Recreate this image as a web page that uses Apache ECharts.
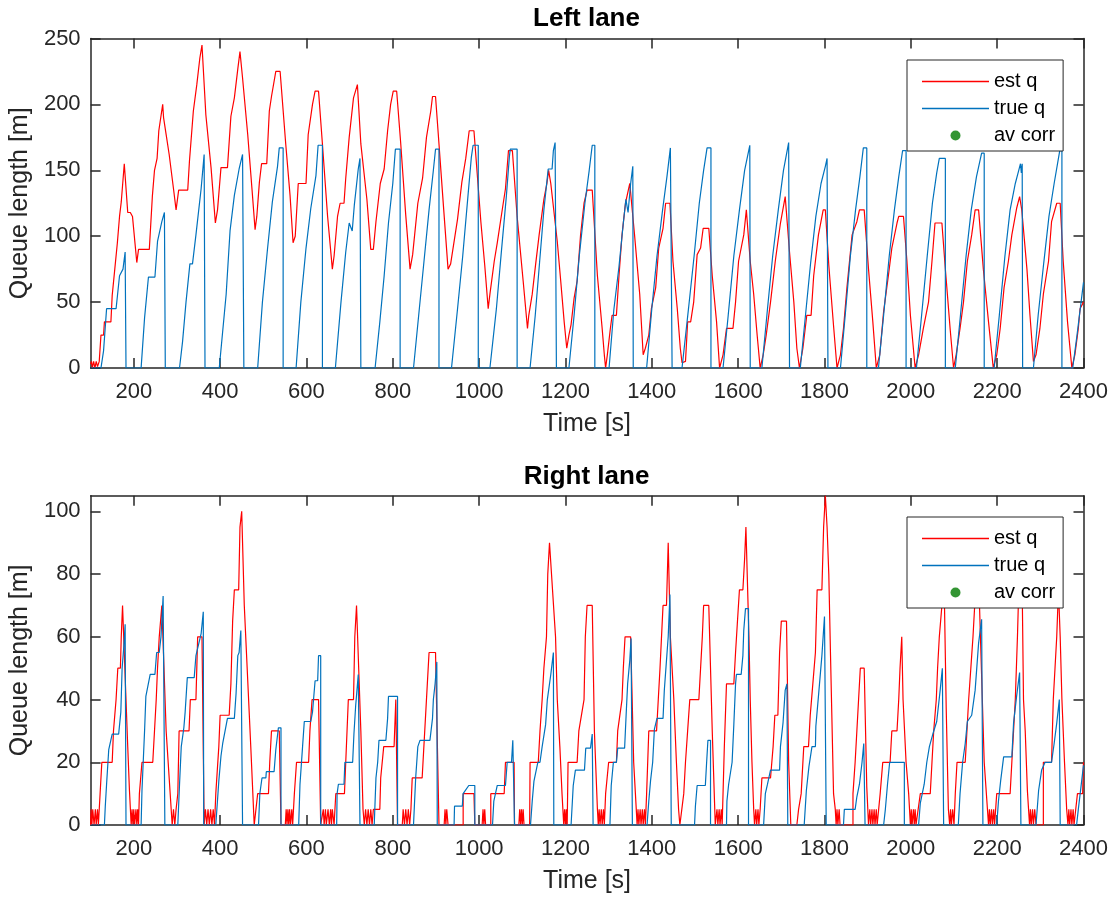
<!DOCTYPE html>
<html>
<head>
<meta charset="utf-8">
<script src="https://cdn.jsdelivr.net/npm/echarts@6/dist/echarts.min.js"></script>
<style>
html,body{margin:0;padding:0;background:#fff;}
#chart{width:1120px;height:902px;}
</style>
</head>
<body>
<div id="chart"></div>
<script>
// ---------- data ----------
var xTicks = [200,400,600,800,1000,1200,1400,1600,1800,2000,2200,2400];
var leftYTicks = [0,50,100,150,200,250];
var rightYTicks = [0,20,40,60,80,100];
var legendNames = ['est q','true q','av corr'];

// Left lane: estimated queue [time s, length m]
var leftEst = [[100,3],[102,5],[104,0],[107,5],[110,0],[113,5],[116,1],[120,5],[122,6],[124,25],[130,25],[132,35],[147,35],[150,55],[156,75],[162,95],[167,115],[171,126],[178,155],[186,118],[192,118],[197,115],[207,80],[211,90],[236,90],[243,130],[248,150],[254,159],[258,180],[267,200],[269,190],[275,177],[282,162],[292,136],[298,120],[304,135],[325,135],[329,157],[338,195],[346,215],[353,235],[358,245],[367,192],[379,152],[389,110],[394,120],[402,152],[417,152],[425,191],[433,205],[441,227],[446,240],[452,220],[464,177],[474,135],[481,105],[485,115],[491,141],[496,155],[508,155],[514,195],[519,206],[529,225],[539,225],[552,170],[562,131],[569,95],[574,100],[581,140],[599,140],[604,177],[614,200],[620,210],[628,210],[637,170],[649,115],[660,75],[664,85],[672,115],[678,125],[687,125],[691,144],[699,175],[709,205],[718,215],[726,170],[740,128],[749,90],[755,90],[761,111],[771,140],[780,151],[788,180],[795,200],[801,210],[809,210],[818,172],[830,116],[840,75],[846,86],[858,125],[869,144],[878,175],[888,195],[892,206],[899,206],[907,170],[918,120],[928,75],[934,79],[950,113],[960,141],[969,159],[977,180],[988,180],[1004,111],[1013,78],[1021,45],[1025,56],[1035,81],[1042,95],[1054,121],[1061,136],[1068,165],[1077,165],[1088,115],[1102,66],[1112,30],[1115,40],[1123,56],[1131,79],[1139,101],[1150,128],[1157,140],[1161,150],[1166,140],[1181,96],[1189,66],[1197,35],[1203,15],[1208,25],[1213,33],[1220,53],[1227,66],[1235,101],[1243,125],[1250,135],[1262,135],[1274,70],[1285,30],[1290,10],[1293,0],[1297,10],[1304,30],[1308,40],[1318,40],[1324,70],[1331,101],[1339,125],[1349,140],[1351,140],[1360,101],[1372,56],[1380,10],[1385,15],[1393,25],[1399,45],[1409,61],[1416,91],[1426,106],[1432,125],[1442,125],[1449,81],[1459,45],[1466,15],[1470,4],[1478,5],[1483,35],[1490,35],[1497,50],[1505,86],[1513,91],[1519,106],[1532,106],[1540,70],[1550,35],[1557,0],[1565,10],[1573,30],[1588,30],[1594,50],[1601,81],[1613,101],[1619,120],[1628,81],[1636,56],[1644,25],[1651,0],[1658,10],[1665,25],[1675,50],[1686,81],[1698,110],[1709,130],[1719,88],[1729,50],[1736,15],[1742,0],[1750,15],[1759,40],[1769,40],[1775,70],[1786,101],[1797,120],[1802,120],[1810,78],[1821,32],[1829,0],[1837,10],[1844,30],[1852,61],[1864,101],[1875,111],[1881,120],[1892,120],[1902,75],[1912,35],[1920,0],[1928,10],[1937,43],[1948,70],[1956,91],[1968,110],[1972,115],[1983,115],[1991,81],[1999,40],[2010,0],[2018,10],[2029,30],[2041,50],[2049,81],[2056,110],[2072,110],[2080,75],[2091,30],[2099,0],[2105,10],[2114,30],[2122,50],[2131,81],[2141,101],[2149,120],[2157,120],[2168,75],[2180,35],[2191,0],[2199,10],[2207,30],[2216,61],[2226,81],[2234,101],[2245,121],[2252,130],[2257,120],[2269,75],[2276,40],[2284,5],[2290,10],[2299,30],[2307,56],[2319,81],[2326,111],[2338,125],[2346,125],[2353,81],[2363,35],[2373,0],[2380,10],[2388,30],[2392,45],[2400,50]];

// Left lane: true queue
var leftTrue = [[100,0],[124,0],[130,13],[137,45],[159,45],[167,70],[175,75],[180,88],[182,88],[182,0],[217,0],[225,38],[234,69],[249,69],[255,96],[265,111],[271,118],[273,118],[273,0],[306,0],[313,20],[321,50],[330,79],[336,79],[344,101],[356,136],[363,162],[365,162],[365,0],[398,0],[414,56],[423,104],[433,131],[444,151],[452,162],[455,162],[455,0],[487,0],[498,50],[510,91],[521,126],[533,153],[537,167],[546,167],[546,0],[576,0],[587,50],[599,91],[610,121],[622,146],[627,169],[637,169],[637,0],[667,0],[680,50],[691,88],[699,110],[706,104],[711,124],[720,151],[724,159],[726,159],[726,0],[759,0],[770,35],[780,70],[790,110],[800,140],[806,166],[817,166],[817,0],[848,0],[860,40],[872,80],[884,120],[894,150],[899,166],[907,166],[907,0],[936,0],[950,45],[962,85],[974,130],[982,160],[986,169],[998,169],[998,0],[1025,0],[1040,45],[1052,90],[1063,130],[1070,160],[1072,166],[1088,166],[1088,0],[1118,0],[1130,40],[1140,80],[1150,120],[1160,151],[1169,151],[1172,165],[1176,171],[1179,171],[1179,0],[1208,0],[1220,40],[1232,85],[1245,125],[1255,150],[1262,169],[1268,169],[1268,0],[1301,0],[1312,44],[1324,77],[1334,110],[1340,128],[1345,118],[1351,140],[1356,153],[1357,153],[1357,0],[1388,0],[1400,45],[1412,85],[1425,120],[1435,145],[1443,167],[1447,167],[1447,0],[1470,0],[1485,45],[1498,85],[1510,125],[1520,150],[1528,167],[1537,167],[1537,0],[1565,0],[1577,40],[1590,85],[1603,120],[1615,150],[1627,169],[1628,169],[1628,0],[1655,0],[1668,45],[1680,85],[1693,120],[1705,150],[1717,171],[1719,171],[1719,0],[1744,0],[1756,40],[1768,80],[1780,115],[1792,140],[1802,153],[1806,159],[1808,159],[1808,0],[1837,0],[1848,40],[1860,85],[1872,120],[1882,145],[1890,167],[1898,167],[1898,0],[1925,0],[1937,40],[1950,85],[1962,120],[1972,145],[1981,165],[1989,165],[1989,0],[2013,0],[2025,40],[2038,85],[2050,125],[2060,148],[2066,159],[2080,159],[2080,0],[2103,0],[2115,40],[2128,85],[2140,120],[2152,145],[2164,163],[2170,163],[2170,0],[2193,0],[2205,40],[2218,85],[2230,120],[2242,140],[2250,150],[2254,155],[2256,148],[2258,155],[2259,155],[2259,0],[2284,0],[2295,40],[2308,80],[2320,115],[2332,140],[2345,165],[2350,165],[2350,0],[2375,0],[2385,25],[2400,65]];

// Right lane: estimated queue
var rightEst = [[100,0],[101,5],[103,0],[105,5],[108,0],[111,5],[113,0],[116,5],[118,0],[120,0],[122,10],[126,10],[126,20],[150,20],[153,30],[159,40],[163,50],[169,50],[171,60],[174,70],[178,70],[186,25],[190,11],[194,0],[196,5],[198,0],[200,5],[202,0],[205,5],[207,0],[209,5],[211,0],[213,10],[219,20],[244,20],[248,30],[252,40],[255,50],[259,60],[265,70],[268,70],[275,30],[282,15],[289,0],[292,5],[295,0],[298,5],[302,10],[305,30],[328,30],[331,40],[344,40],[348,60],[358,60],[363,0],[366,5],[369,0],[372,5],[375,0],[378,5],[381,0],[384,5],[387,0],[390,10],[397,25],[400,35],[421,35],[425,45],[429,65],[433,75],[443,75],[446,95],[450,100],[456,70],[461,55],[466,40],[471,25],[479,0],[487,10],[512,10],[515,20],[519,30],[537,30],[541,0],[551,0],[553,5],[555,0],[557,5],[559,0],[561,5],[563,0],[566,5],[568,0],[572,10],[577,20],[605,20],[608,30],[613,40],[628,40],[633,0],[639,5],[641,0],[644,5],[646,0],[650,5],[653,0],[656,5],[658,0],[660,5],[664,0],[668,10],[688,10],[691,20],[694,30],[697,40],[709,40],[712,60],[716,70],[720,70],[726,30],[731,5],[734,0],[737,5],[740,0],[743,5],[746,0],[749,5],[752,0],[755,5],[770,5],[772,15],[779,25],[803,25],[807,40],[811,0],[822,0],[824,5],[827,0],[830,5],[833,0],[836,5],[839,0],[842,5],[845,15],[868,15],[872,25],[880,45],[884,55],[899,55],[907,0],[919,0],[921,5],[923,0],[925,5],[928,0],[963,0],[963,10],[988,10],[990,0],[1007,0],[1009,5],[1011,0],[1013,5],[1015,0],[1027,0],[1027,10],[1058,10],[1061,20],[1081,20],[1082,0],[1092,0],[1094,5],[1096,0],[1098,5],[1100,0],[1102,5],[1104,0],[1117,0],[1118,20],[1137,20],[1141,30],[1146,40],[1150,50],[1156,60],[1159,80],[1163,90],[1167,90],[1177,60],[1181,40],[1187,25],[1192,10],[1196,0],[1198,5],[1200,0],[1202,5],[1204,0],[1206,20],[1227,20],[1231,30],[1243,40],[1246,60],[1250,70],[1262,70],[1267,30],[1274,5],[1276,0],[1278,5],[1280,0],[1283,5],[1285,0],[1288,5],[1290,0],[1293,10],[1300,20],[1318,20],[1321,30],[1331,40],[1334,50],[1338,60],[1351,60],[1358,20],[1362,10],[1366,0],[1368,5],[1370,0],[1373,5],[1375,0],[1378,5],[1380,0],[1383,5],[1385,0],[1388,10],[1393,30],[1411,30],[1415,40],[1419,50],[1426,70],[1434,70],[1438,90],[1443,60],[1451,40],[1457,20],[1462,5],[1465,0],[1474,10],[1478,20],[1483,30],[1488,40],[1509,40],[1513,50],[1517,60],[1520,70],[1532,70],[1540,30],[1547,0],[1551,5],[1553,0],[1556,5],[1558,0],[1561,5],[1563,0],[1568,25],[1573,45],[1590,45],[1594,55],[1598,64],[1603,75],[1611,75],[1615,85],[1618,95],[1625,60],[1628,40],[1632,20],[1636,5],[1638,0],[1641,5],[1643,0],[1646,5],[1648,0],[1651,5],[1655,15],[1675,15],[1681,25],[1685,35],[1692,35],[1696,55],[1700,65],[1712,65],[1717,20],[1722,0],[1736,0],[1740,5],[1746,10],[1752,25],[1763,25],[1767,35],[1773,45],[1779,55],[1783,75],[1794,75],[1798,95],[1802,105],[1806,95],[1810,80],[1814,54],[1821,10],[1825,5],[1827,0],[1829,5],[1831,0],[1834,5],[1836,0],[1866,0],[1866,10],[1871,20],[1875,30],[1879,40],[1883,50],[1892,50],[1898,12],[1902,0],[1905,5],[1907,0],[1910,5],[1912,0],[1915,5],[1917,0],[1920,5],[1922,0],[1929,10],[1935,20],[1952,20],[1956,30],[1968,30],[1972,40],[1975,50],[1979,60],[1982,40],[1989,20],[1995,10],[1999,0],[2001,5],[2003,0],[2006,5],[2008,0],[2010,5],[2012,0],[2022,10],[2045,10],[2049,20],[2053,30],[2059,40],[2062,50],[2066,60],[2072,70],[2078,70],[2082,37],[2087,5],[2090,0],[2092,5],[2094,0],[2097,5],[2100,0],[2103,10],[2107,20],[2126,20],[2130,30],[2134,40],[2139,50],[2144,60],[2150,75],[2158,75],[2170,20],[2180,0],[2182,5],[2184,0],[2187,5],[2189,0],[2192,5],[2194,0],[2199,10],[2230,10],[2234,20],[2238,30],[2242,40],[2247,60],[2250,75],[2258,75],[2261,40],[2265,30],[2270,11],[2275,0],[2277,5],[2279,0],[2282,5],[2284,0],[2287,5],[2290,0],[2307,0],[2307,20],[2326,20],[2330,40],[2334,50],[2338,60],[2342,75],[2346,60],[2350,40],[2356,20],[2361,5],[2364,0],[2366,5],[2368,0],[2371,5],[2373,0],[2376,5],[2378,0],[2386,10],[2398,10],[2400,20]];

// Right lane: true queue
var rightTrue = [[100,0],[132,0],[134,6],[137,13],[142,24],[150,29],[165,29],[170,36],[173,50],[177,57],[180,64],[182,64],[182,0],[217,0],[219,11],[225,30],[228,41],[238,48],[249,48],[253,55],[259,55],[263,60],[268,73],[272,73],[272,0],[302,0],[306,13],[310,25],[316,31],[319,36],[324,47],[340,47],[344,54],[356,61],[361,68],[362,68],[362,0],[390,0],[397,14],[402,22],[406,26],[417,34],[433,34],[437,42],[441,54],[444,55],[448,62],[452,62],[452,0],[489,0],[492,10],[497,15],[506,15],[507,17],[525,17],[529,24],[535,31],[541,31],[541,0],[582,0],[585,13],[591,25],[595,33],[610,33],[614,36],[620,46],[626,46],[628,54],[633,54],[633,0],[670,0],[671,10],[674,13],[687,13],[689,20],[707,20],[710,29],[714,38],[720,48],[724,48],[724,0],[757,0],[761,15],[765,20],[768,27],[784,27],[788,34],[790,41],[811,41],[811,0],[848,0],[853,15],[858,25],[863,27],[886,27],[892,34],[894,40],[898,45],[902,52],[903,52],[903,0],[942,0],[943,6],[961,6],[963,10],[976,12.6],[990,12.6],[990,0],[1031,0],[1034,7.6],[1042,12.6],[1061,12.6],[1065,20],[1075,20],[1078,27],[1082,27],[1082,0],[1119,0],[1123,7.6],[1127,14],[1136,20],[1141,20],[1146,25],[1154,32],[1158,40],[1166,48],[1172,55],[1173,55],[1173,0],[1213,0],[1218,12.6],[1223,17.5],[1244,17.5],[1247,24.5],[1258,24.5],[1262,29],[1264,29],[1264,0],[1303,0],[1306,12.6],[1311,20],[1318,20],[1321,24.5],[1337,24.5],[1341,36.5],[1344,45],[1349,52.5],[1352,59.5],[1355,59.5],[1355,0],[1389,0],[1393,7.6],[1397,14],[1402,20],[1406,30.6],[1412,34],[1426,34],[1429,43],[1434,52.5],[1438,60],[1442,73.5],[1445,73.5],[1445,0],[1499,0],[1501,6],[1505,12.6],[1524,12.6],[1527,20],[1530,27],[1536,27],[1536,0],[1573,0],[1574,7.6],[1578,13],[1586,20],[1590,32],[1594,45],[1596,48],[1607,48],[1611,54],[1613,62],[1617,69],[1624,69],[1624,0],[1659,0],[1663,10],[1668,13],[1675,17.5],[1696,17.5],[1698,25],[1704,32.6],[1709,43],[1713,45],[1715,45],[1715,0],[1753,0],[1758,11],[1764,18.6],[1771,25],[1779,25],[1780,31.5],[1786,41],[1794,54],[1800,66.5],[1804,66.5],[1804,0],[1844,0],[1846,5],[1871,5],[1875,9],[1881,13],[1887,20],[1891,26],[1894,26],[1894,0],[1937,0],[1941,5],[1946,13],[1951,20],[1985,20],[1985,0],[2018,0],[2022,7],[2031,13],[2037,20],[2043,25],[2051,29],[2060,33],[2068,43],[2073,50],[2076,50],[2076,0],[2110,0],[2114,10],[2120,20],[2126,26],[2131,33],[2141,35],[2149,43],[2157,58],[2164,65.6],[2167,65.6],[2167,0],[2199,0],[2203,7.6],[2208,14],[2215,21.7],[2234,21.7],[2238,32.5],[2245,41],[2252,48.6],[2255,48.6],[2255,0],[2290,0],[2296,11],[2303,17.5],[2311,20],[2326,20],[2332,26],[2338,32.5],[2344,40],[2346,40],[2346,0],[2384,0],[2388,5],[2400,19]];

// av corr: no points visible in the plot area
var leftAvCorr = [];
var rightAvCorr = [];

// ---------- chart ----------
var FONT = '"Liberation Sans", Arial, Helvetica, sans-serif';
var AX = '#262626';
var RED = '#FF0000', BLUE = '#0072BD', GREEN = '#007A00';
var LINE_ICON = 'path://M0,0H67V1.4H0Z';

function plain(v) { return String(v); }

function xAxisPair(grid) {
  var base = {
    gridIndex: grid, type: 'value', min: 100, max: 2400,
    axisLine: {show: true, onZero: false, lineStyle: {color: AX, width: 1.5}},
    axisTick: {show: true, inside: true, length: 10, customValues: xTicks, lineStyle: {color: AX, width: 1.5}},
    splitLine: {show: false}
  };
  var bottom = Object.assign({}, base, {
    position: 'bottom',
    axisLabel: {show: true, customValues: xTicks, formatter: plain, fontSize: 22, color: AX, fontFamily: FONT, margin: 13, lineHeight: 22},
    name: 'Time [s]', nameLocation: 'middle', nameGap: 44,
    nameTextStyle: {fontSize: 25, color: AX, fontFamily: FONT, lineHeight: 25}
  });
  var top = Object.assign({}, base, {position: 'top', axisLabel: {show: false}});
  return [bottom, top];
}
function yAxisPair(grid, max, ticks) {
  var base = {
    gridIndex: grid, type: 'value', min: 0, max: max,
    axisLine: {show: true, onZero: false, lineStyle: {color: AX, width: 1.5}},
    axisTick: {show: true, inside: true, length: 10, customValues: ticks, lineStyle: {color: AX, width: 1.5}},
    splitLine: {show: false}
  };
  var left = Object.assign({}, base, {
    position: 'left',
    axisLabel: {show: true, customValues: ticks, formatter: plain, fontSize: 22, color: AX, fontFamily: FONT, margin: 10},
    name: 'Queue length [m]', nameLocation: 'middle', nameGap: 50,
    nameTextStyle: {fontSize: 25, color: AX, fontFamily: FONT}
  });
  var right = Object.assign({}, base, {position: 'right', axisLabel: {show: false}});
  return [left, right];
}

function lineSeries(name, color, xi, yi, data) {
  return {
    name: name, type: 'line', xAxisIndex: xi, yAxisIndex: yi, data: data,
    symbol: 'none', showSymbol: false, lineStyle: {color: color, width: 1.2},
    itemStyle: {color: color}, animation: false, clip: true
  };
}
function legendAt(top) {
  return {
    orient: 'vertical', left: 907, top: top,
    data: [
      {name: 'est q', icon: LINE_ICON, itemStyle: {color: RED, borderWidth: 0}},
      {name: 'true q', icon: LINE_ICON, itemStyle: {color: BLUE, borderWidth: 0}},
      {name: 'av corr', icon: 'circle', itemStyle: {color: GREEN, borderWidth: 0}}
    ],
    itemWidth: 67, itemHeight: 10, itemGap: 6,
    padding: [11, 8, 5, 15],
    borderColor: AX, borderWidth: 1, backgroundColor: '#fff',
    selectedMode: false,
    textStyle: {fontSize: 20, color: '#000', fontFamily: FONT, lineHeight: 21}
  };
}

var xa = xAxisPair(0).concat(xAxisPair(1));
var ya = yAxisPair(0, 250, leftYTicks).concat(yAxisPair(1, 105, rightYTicks));

var option = {
  backgroundColor: '#fff',
  animation: false,
  grid: [
    {left: 89.5, top: 38.5, width: 994, height: 329.5, containLabel: false},
    {left: 89.5, top: 495.7, width: 994, height: 329.3, containLabel: false}
  ],
  xAxis: xa,
  yAxis: ya,
  legend: [legendAt(60), legendAt(517)],
  graphic: [
    {type: 'text', x: 586.5, y: 19, style: {text: 'Left lane', fontSize: 26, fontWeight: 'bold', fontFamily: FONT, fill: '#000', align: 'center', verticalAlign: 'middle'}},
    {type: 'text', x: 586.5, y: 477, style: {text: 'Right lane', fontSize: 26, fontWeight: 'bold', fontFamily: FONT, fill: '#000', align: 'center', verticalAlign: 'middle'}}
  ],
  series: [
    lineSeries('est q', RED, 0, 0, leftEst),
    lineSeries('true q', BLUE, 0, 0, leftTrue),
    {name: 'av corr', type: 'scatter', xAxisIndex: 0, yAxisIndex: 0, data: leftAvCorr, symbolSize: 10, itemStyle: {color: GREEN}},
    lineSeries('est q', RED, 2, 2, rightEst),
    lineSeries('true q', BLUE, 2, 2, rightTrue),
    {name: 'av corr', type: 'scatter', xAxisIndex: 2, yAxisIndex: 2, data: rightAvCorr, symbolSize: 10, itemStyle: {color: GREEN}}
  ]
};

var chart = echarts.init(document.getElementById('chart'), null, {renderer: 'canvas'});
chart.setOption(option);
</script>
</body>
</html>
